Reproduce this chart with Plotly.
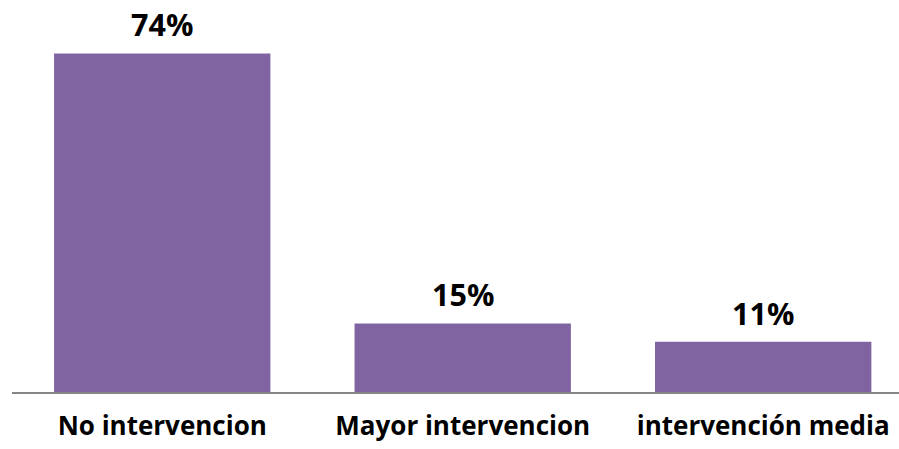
import plotly.graph_objects as go

categories = ["No intervencion", "Mayor intervencion", "intervención media"]
values = [74, 15, 11]
labels = ["74%", "15%", "11%"]

fig = go.Figure()
fig.add_trace(go.Bar(x=categories, y=values, marker_color="#8064A2", marker_line_width=0, hoverinfo="skip"))

for c, v, t in zip(categories, values, labels):
    fig.add_annotation(x=c, y=v, text="<b>%s</b>" % t, showarrow=False, yanchor="bottom", yshift=7,
                       borderpad=0, font=dict(family="Open Sans", size=30.5, color="#000000"))

fig.update_layout(
    width=899, height=449,
    margin=dict(l=12, r=0, t=26, b=57),
    paper_bgcolor="white", plot_bgcolor="white",
    bargap=0.28, showlegend=False,
    xaxis=dict(type="category", range=[-0.5, 2.452], showline=True, linecolor="#868686", linewidth=2,
               showgrid=False, ticks="", ticklabelstandoff=10,
               tickfont=dict(family="Open Sans", size=26, color="#000000")),
    yaxis=dict(range=[0, 80], visible=False),
)
fig.update_xaxes(tickvals=categories, ticktext=["<b>%s</b>" % c for c in categories])
fig.write_html("out.html", config={"displayModeBar": False, "staticPlot": True},
               post_script="document.body.style.margin='0';document.body.style.overflow='hidden';")
